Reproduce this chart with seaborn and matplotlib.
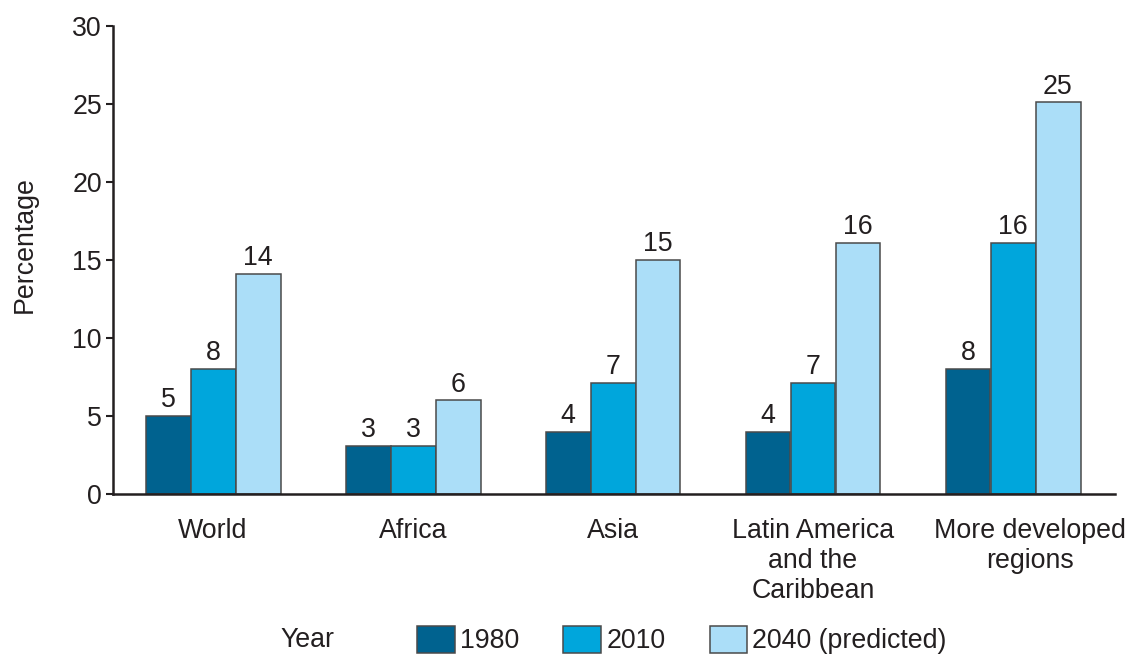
import numpy as np
import pandas as pd
import matplotlib
matplotlib.use("Agg")
import matplotlib.pyplot as plt
import matplotlib.transforms as mtransforms
import seaborn as sns
from matplotlib.patches import Patch

regions = ["World", "Africa", "Asia", "Latin America\nand the\nCaribbean", "More developed\nregions"]
years = ["1980", "2010", "2040 (predicted)"]
v1980 = [5.0, 3.1, 4.0, 4.0, 8.0]
v2010 = [8.0, 3.1, 7.1, 7.1, 16.1]
v2040 = [14.1, 6.0, 15.0, 16.1, 25.1]
yticks = [0, 5, 10, 15, 20, 25, 30]
colors = ["#00628F", "#00A6DC", "#ABDEF8"]

df = pd.DataFrame({
    "Region": regions * 3,
    "Year": [years[0]] * 5 + [years[1]] * 5 + [years[2]] * 5,
    "Percentage": v1980 + v2010 + v2040,
})

sns.set_theme(style="white")
plt.rcParams["font.family"] = ["Liberation Sans", "DejaVu Sans"]
txt = "#231F20"
plt.rcParams["text.color"] = txt
plt.rcParams["axes.labelcolor"] = txt
plt.rcParams["xtick.color"] = txt
plt.rcParams["ytick.color"] = txt

fig = plt.figure(figsize=(11.3, 6.57), dpi=100)
ax = fig.add_axes([113 / 1130, 1 - 494 / 657, (1115 - 113) / 1130, (494 - 26) / 657])

sns.barplot(data=df, x="Region", y="Percentage", hue="Year", hue_order=years,
            palette=colors, saturation=1, width=0.675, gap=0, dodge=True, ax=ax,
            edgecolor="#4a4a4a", linewidth=1.1, legend=False, errorbar=None)

fs = 19.3
for cont in ax.containers:
    ax.bar_label(cont, labels=[f"{v:.0f}" for v in cont.datavalues], padding=2,
                 fontsize=fs, color=txt)

ax.set_xlim(-0.5, 4.51)
ax.set_ylim(0, 30)
ax.set_yticks(yticks)
ax.set_yticklabels([str(t) for t in yticks], fontsize=fs)
ax.tick_params(axis="y", which="both", left=True, length=5, width=1.5, pad=3, direction="out")
ax.tick_params(axis="x", bottom=False, labelsize=fs, pad=11)
ax.set_xlabel("")
ax.set_ylabel("Percentage", fontsize=fs)
ax.yaxis.set_label_coords(-0.075, 0.532)
for s in ["top", "right"]:
    ax.spines[s].set_visible(False)
for s in ["left", "bottom"]:
    ax.spines[s].set_linewidth(1.8)
    ax.spines[s].set_color(txt)

# the last category label sits slightly right of its group in the reference
last = ax.get_xticklabels()[-1]
last.set_transform(last.get_transform() + mtransforms.ScaledTranslation(0.17, 0, fig.dpi_scale_trans))

handles = [Patch(facecolor=c, edgecolor="#4a4a4a", linewidth=1.1) for c in colors]
fig.text(280 / 1130, 1 - 640 / 657, "Year", fontsize=fs, va="center", ha="left")
fig.legend(handles, years, loc="center left", bbox_to_anchor=(417 / 1130, 1 - 640 / 657),
           ncol=3, frameon=False, fontsize=fs, handlelength=1.4, handleheight=1.2,
           handletextpad=0.2, columnspacing=1.65, borderaxespad=0, borderpad=0)

fig.savefig("out.png", dpi=100)
